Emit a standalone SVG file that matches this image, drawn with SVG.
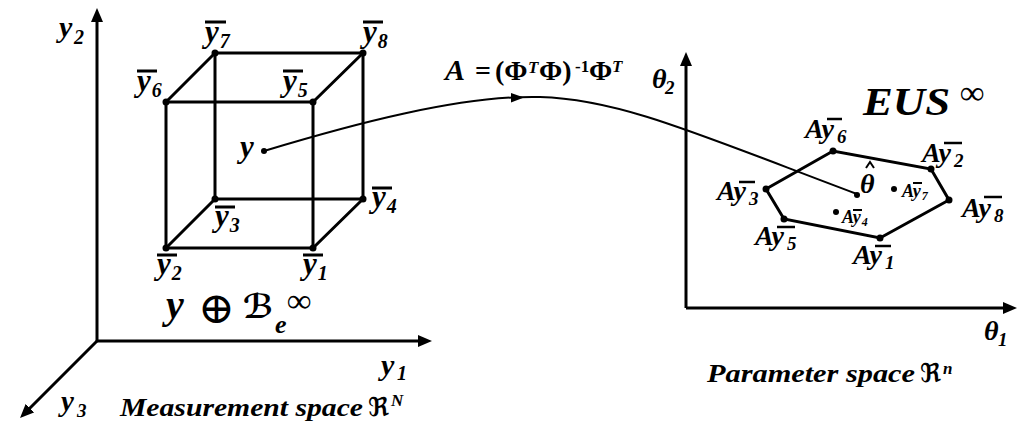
<svg xmlns="http://www.w3.org/2000/svg" width="1019" height="424" viewBox="0 0 1019 424">
<style>
text{font-family:'Liberation Serif',serif;font-weight:700;fill:#000}
.sym{font-family:'DejaVu Serif','DejaVu Sans',serif}
.it{font-style:italic}
.up{font-style:normal}
.lb{font-size:31px;font-style:italic}
.lbs{font-size:20px;font-style:italic}
.al{font-size:28px;font-style:italic}
.als{font-size:19px;font-style:italic}
.sm{font-size:18px;font-style:italic}
.sms{font-size:12px;font-style:italic}
.ln{stroke:#000;stroke-width:3;fill:none;stroke-linecap:round}
.bar{stroke:#000;stroke-width:3}
.bar2{stroke:#000;stroke-width:2.5}
.bar3{stroke:#000;stroke-width:2}
.ax{stroke:#000;stroke-width:3;fill:none}
.dot{fill:#000}
</style>
<defs>
<marker id="ah" markerUnits="userSpaceOnUse" viewBox="0 0 14 12" markerWidth="14" markerHeight="12" refX="2" refY="6" orient="auto">
<path d="M0,0 L14,6 L0,12 z" fill="#000"/>
</marker>
</defs>
<rect width="1019" height="424" fill="#fff"/>

<g id="axes-measurement">
<path class="ax" d="M97,341 V20" marker-end="url(#ah)"/>
<path class="ax" d="M97,341 H420" marker-end="url(#ah)"/>
<path class="ax" d="M97,341 L28.5,409.5" marker-end="url(#ah)"/>
<text x="59" y="37" class="it" font-size="30">y<tspan x="74" y="44" font-size="20">2</tspan></text>
<text x="381" y="375" class="it" font-size="30">y<tspan x="397" y="380" font-size="20">1</tspan></text>
<text x="61" y="411" class="it" font-size="29">y<tspan x="77" y="417" font-size="19">3</tspan></text>
<text x="120" y="416" class="it" font-size="25"><tspan textLength="243" lengthAdjust="spacingAndGlyphs">Measurement space</tspan><tspan x="368" class="up sym" font-size="26">ℜ</tspan><tspan x="391" y="406" font-size="17">N</tspan></text>
</g>

<g id="cube">
<path class="ln" d="M166,102 H313 V248 H166 Z"/>
<path class="ln" d="M215,53 H363 V199 H215 Z"/>
<path class="ln" d="M166,102 L215,53 M313,102 L363,53 M313,248 L363,199 M166,248 L215,199"/>
</g>

<g id="v1"><circle class="dot" cx="313" cy="248" r="3.5"/><line class="bar" x1="303" y1="255" x2="323" y2="255"/><text class="lb" x="303" y="274">y<tspan class="lbs" dx="1" dy="6">1</tspan></text></g>
<g id="v2"><circle class="dot" cx="166" cy="248" r="3.5"/><line class="bar" x1="157" y1="255" x2="177" y2="255"/><text class="lb" x="157" y="274">y<tspan class="lbs" dx="1" dy="6">2</tspan></text></g>
<g id="v3"><circle class="dot" cx="215" cy="199" r="3.5"/><line class="bar" x1="215" y1="207" x2="235" y2="207"/><text class="lb" x="215" y="226">y<tspan class="lbs" dx="1" dy="6">3</tspan></text></g>
<g id="v4"><circle class="dot" cx="363" cy="199" r="3.5"/><line class="bar" x1="372" y1="188" x2="392" y2="188"/><text class="lb" x="372" y="207">y<tspan class="lbs" dx="1" dy="6">4</tspan></text></g>
<g id="v5"><circle class="dot" cx="313" cy="102" r="3.5"/><line class="bar" x1="283" y1="71" x2="303" y2="71"/><text class="lb" x="283" y="91">y<tspan class="lbs" dx="1" dy="6">5</tspan></text></g>
<g id="v6"><circle class="dot" cx="166" cy="102" r="3.5"/><line class="bar" x1="137" y1="71" x2="157" y2="71"/><text class="lb" x="137" y="91">y<tspan class="lbs" dx="1" dy="6">6</tspan></text></g>
<g id="v7"><circle class="dot" cx="215" cy="53" r="3.5"/><line class="bar" x1="205" y1="22" x2="226" y2="22"/><text class="lb" x="205" y="42">y<tspan class="lbs" dx="1" dy="6">7</tspan></text></g>
<g id="v8"><circle class="dot" cx="363" cy="53" r="3.5"/><line class="bar" x1="363" y1="22" x2="383" y2="22"/><text class="lb" x="363" y="42">y<tspan class="lbs" dx="1" dy="6">8</tspan></text></g>

<g id="point-y"><circle class="dot" cx="264" cy="151" r="3"/><text class="lb" x="240" y="157">y</text></g>

<g id="ball-label">
<text y="318" font-size="40"><tspan x="166" class="it">y</tspan><tspan x="198" y="323" class="up sym" font-size="44" font-weight="400">⊕</tspan><tspan x="243" y="318" class="it sym" font-size="33">ℬ</tspan><tspan x="275" y="333" class="it" font-size="26">e</tspan><tspan x="287" y="312" class="up" font-size="34">∞</tspan></text>
</g>

<g id="connectors">
<path d="M264,151 C350,125 460,95 540,97 C620,99 700,135 857,194" fill="none" stroke="#000" stroke-width="2"/>
<polygon points="524,97.6 511,93 511,102.5" fill="#000"/>
<text y="80" font-size="28"><tspan x="445" class="it" font-size="30">A</tspan><tspan x="475" class="up">=</tspan><tspan x="495" class="up">(Φ</tspan><tspan x="528" y="73" class="it" font-size="17">T</tspan><tspan x="539" y="80" class="up">Φ)</tspan><tspan x="575" y="72" class="up" font-size="17">-1</tspan><tspan x="589" y="80" class="up">Φ</tspan><tspan x="612" y="72" class="it" font-size="17">T</tspan></text>
</g>

<g id="axes-parameter">
<path class="ax" d="M686,308 V64" marker-end="url(#ah)"/>
<path class="ax" d="M686,308 H1005" marker-end="url(#ah)"/>
<text x="652" y="88" class="it" font-size="28">θ<tspan x="665" y="94" font-size="19">2</tspan></text>
<text x="984" y="340" class="it" font-size="28">θ<tspan x="998" y="346" font-size="19">1</tspan></text>
<text x="707" y="382" class="it" font-size="25"><tspan textLength="208" lengthAdjust="spacingAndGlyphs">Parameter space</tspan><tspan x="920" class="up sym" font-size="26">ℜ</tspan><tspan x="943" y="374" font-size="17">n</tspan></text>
</g>

<g id="eus">
<path class="ln" d="M766,189 L833,151 L931,169 L949,200 L880,238 L784,219 Z"/>
<text x="863" y="115" class="it" font-size="40"><tspan textLength="87" lengthAdjust="spacingAndGlyphs">EUS</tspan><tspan x="960" y="104" class="up" font-size="34">∞</tspan></text>
</g>

<g id="a1"><circle class="dot" cx="880" cy="238" r="3.5"/><line class="bar2" x1="875" y1="246" x2="891" y2="246"/><text class="al" x="853" y="264">Ay<tspan class="als" dx="3" dy="5">1</tspan></text></g>
<g id="a2"><circle class="dot" cx="931" cy="169" r="3.5"/><line class="bar2" x1="944" y1="143" x2="962" y2="143"/><text class="al" x="922" y="162">Ay<tspan class="als" dx="3" dy="5">2</tspan></text></g>
<g id="a3"><circle class="dot" cx="766" cy="189" r="3.5"/><line class="bar2" x1="739" y1="182" x2="755" y2="182"/><text class="al" x="717" y="200">Ay<tspan class="als" dx="3" dy="5">3</tspan></text></g>
<g id="a4"><circle class="dot" cx="836" cy="212" r="3"/><line class="bar3" x1="853" y1="210" x2="862" y2="210"/><text class="sm" x="842" y="223">Ay<tspan class="sms" dx="1" dy="3">4</tspan></text></g>
<g id="a5"><circle class="dot" cx="784" cy="219" r="3.5"/><line class="bar2" x1="777" y1="227" x2="795" y2="227"/><text class="al" x="755" y="245">Ay<tspan class="als" dx="3" dy="5">5</tspan></text></g>
<g id="a6"><circle class="dot" cx="833" cy="151" r="3.5"/><line class="bar2" x1="827" y1="119" x2="842" y2="119"/><text class="al" x="805" y="138">Ay<tspan class="als" dx="3" dy="5">6</tspan></text></g>
<g id="a7"><circle class="dot" cx="894" cy="189" r="3"/><line class="bar3" x1="913" y1="183" x2="922" y2="183"/><text class="sm" x="902" y="197">Ay<tspan class="sms" dx="1" dy="3">7</tspan></text></g>
<g id="a8"><circle class="dot" cx="949" cy="200" r="3.5"/><line class="bar2" x1="984" y1="197" x2="1002" y2="197"/><text class="al" x="962" y="217">Ay<tspan class="als" dx="3" dy="5">8</tspan></text></g>

<g id="theta-hat"><circle class="dot" cx="857" cy="195" r="3"/><text class="it" x="860" y="193" font-size="28">θ</text><polyline points="866,168 870,162 874,168" fill="none" stroke="#000" stroke-width="2"/></g>
</svg>
